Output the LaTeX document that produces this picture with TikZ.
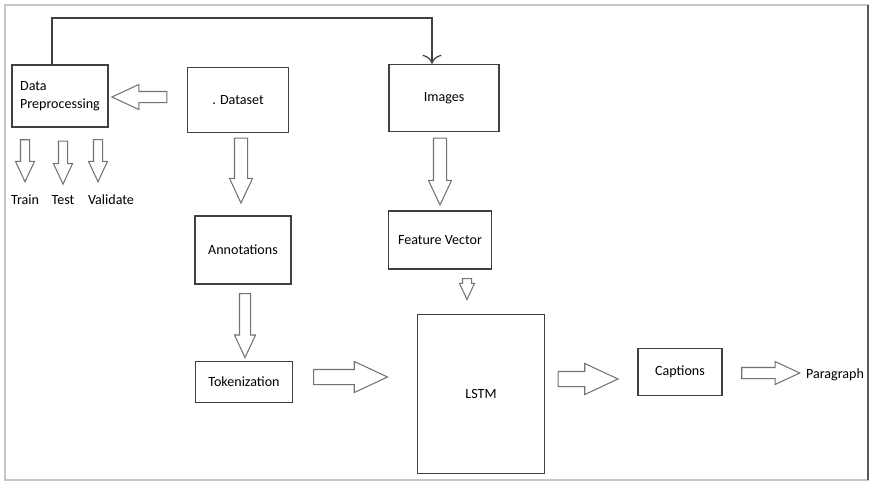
\documentclass[tikz,border=0pt]{standalone}
\usepackage{fontspec}
\setmainfont{Carlito}
\usepackage{tikz}
\usetikzlibrary{shapes.arrows, arrows.meta, positioning, calc}
\tikzset{
  block/.style={rectangle, draw=black!75, line width=0.8pt, fill=white, align=center, font=\fontsize{8}{10}\selectfont},
  label/.style={inner sep=1pt, font=\fontsize{8}{10}\selectfont},
  barrow/.style 2 args={single arrow, draw=black!55, line width=0.6pt, fill=white, inner sep=#1, single arrow head extend=#2, single arrow tip angle=50},
  arrow/.style={-{To[length=1.8mm]}, draw=black!75, line width=0.7pt},
}

\begin{document}
\begin{tikzpicture}[x=0.2mm, y=-0.2mm]
\useasboundingbox (0,0) rectangle (874,487);
\draw[gray!45, line width=0.8pt] (5,5) rectangle (868,480);
\draw[black!65, line width=1pt] (868,5) -- (868,480);

\node[block, minimum width=19.2mm, minimum height=12.4mm, align=left] (dp) at (60,96) {Data\\Preprocessing};
\node[block, minimum width=20.2mm, minimum height=13mm] (ds) at (238,100) {. Dataset};
\node[block, minimum width=22mm, minimum height=13.4mm] (img) at (444,98) {Images};
\node[block, minimum width=19.2mm, minimum height=13.6mm] (ann) at (243,250) {Annotations};
\node[block, minimum width=20.6mm, minimum height=11.6mm] (fv) at (440,240) {Feature Vector};
\node[block, minimum width=19.4mm, minimum height=8.2mm] (tok) at (244,382) {Tokenization};
\node[block, minimum width=25.4mm, minimum height=31.8mm] (lstm) at (481,394) {LSTM};
\node[block, minimum width=16.8mm, minimum height=9.4mm] (cap) at (680,372) {Captions};
\node[label] (par) at (835,375) {Paragraph};
\node[label] (train) at (25,200) {Train};
\node[label] (test) at (63,200) {Test};
\node[label] (val) at (111,200) {Validate};

% open block arrows
\node[barrow={1mm}{1.4mm}, shape border rotate=180, minimum height=11mm, anchor=tip] (a1) at ($(dp.east)+(2,1)$) {};
\node[barrow={0.8mm}{1mm}, shape border rotate=270, minimum height=8.4mm, anchor=tip] (a2) at ($(train.north)+(0,-10)$) {};
\node[barrow={0.8mm}{1mm}, shape border rotate=270, minimum height=8.6mm, anchor=tip] (a3) at ($(test.north)+(0,-8)$) {};
\node[barrow={0.8mm}{1mm}, shape border rotate=270, minimum height=8.4mm, anchor=tip] (a4) at ($(val.north)+(-13,-10)$) {};
\node[barrow={1.2mm}{1mm}, shape border rotate=270, minimum height=13mm, anchor=tip] (a5) at ($(ann.north)+(-2,-11)$) {};
\node[barrow={1.2mm}{1mm}, shape border rotate=270, minimum height=13.4mm, anchor=tip] (a6) at ($(fv.north)+(0,-4)$) {};
\node[barrow={0.8mm}{0.6mm}, shape border rotate=270, minimum height=4.2mm, anchor=tip] (a7) at ($(lstm.north)+(-14,-13)$) {};
\node[barrow={1mm}{1mm}, shape border rotate=270, minimum height=12.8mm, anchor=tip] (a8) at ($(tok.north)+(1,-2)$) {};
\node[barrow={1.4mm}{1.6mm}, minimum height=14.8mm, anchor=tip] (a9) at ($(lstm.west)+(-28,-17)$) {};
\node[barrow={1.4mm}{1.6mm}, minimum height=12mm, anchor=tip] (a10) at ($(cap.west)+(-18,7)$) {};
\node[barrow={1mm}{1.2mm}, minimum height=11.6mm, anchor=tip] (a11) at ($(par.west)+(-3,-2)$) {};

% feedback line
\coordinate (top) at (0,18);
\coordinate (imgin) at ($(img.north)+(-12,0)$);
\draw[arrow] ($(dp.north)+(-8,0)$) |- (imgin |- top) -- (imgin);
\end{tikzpicture}
\end{document}
